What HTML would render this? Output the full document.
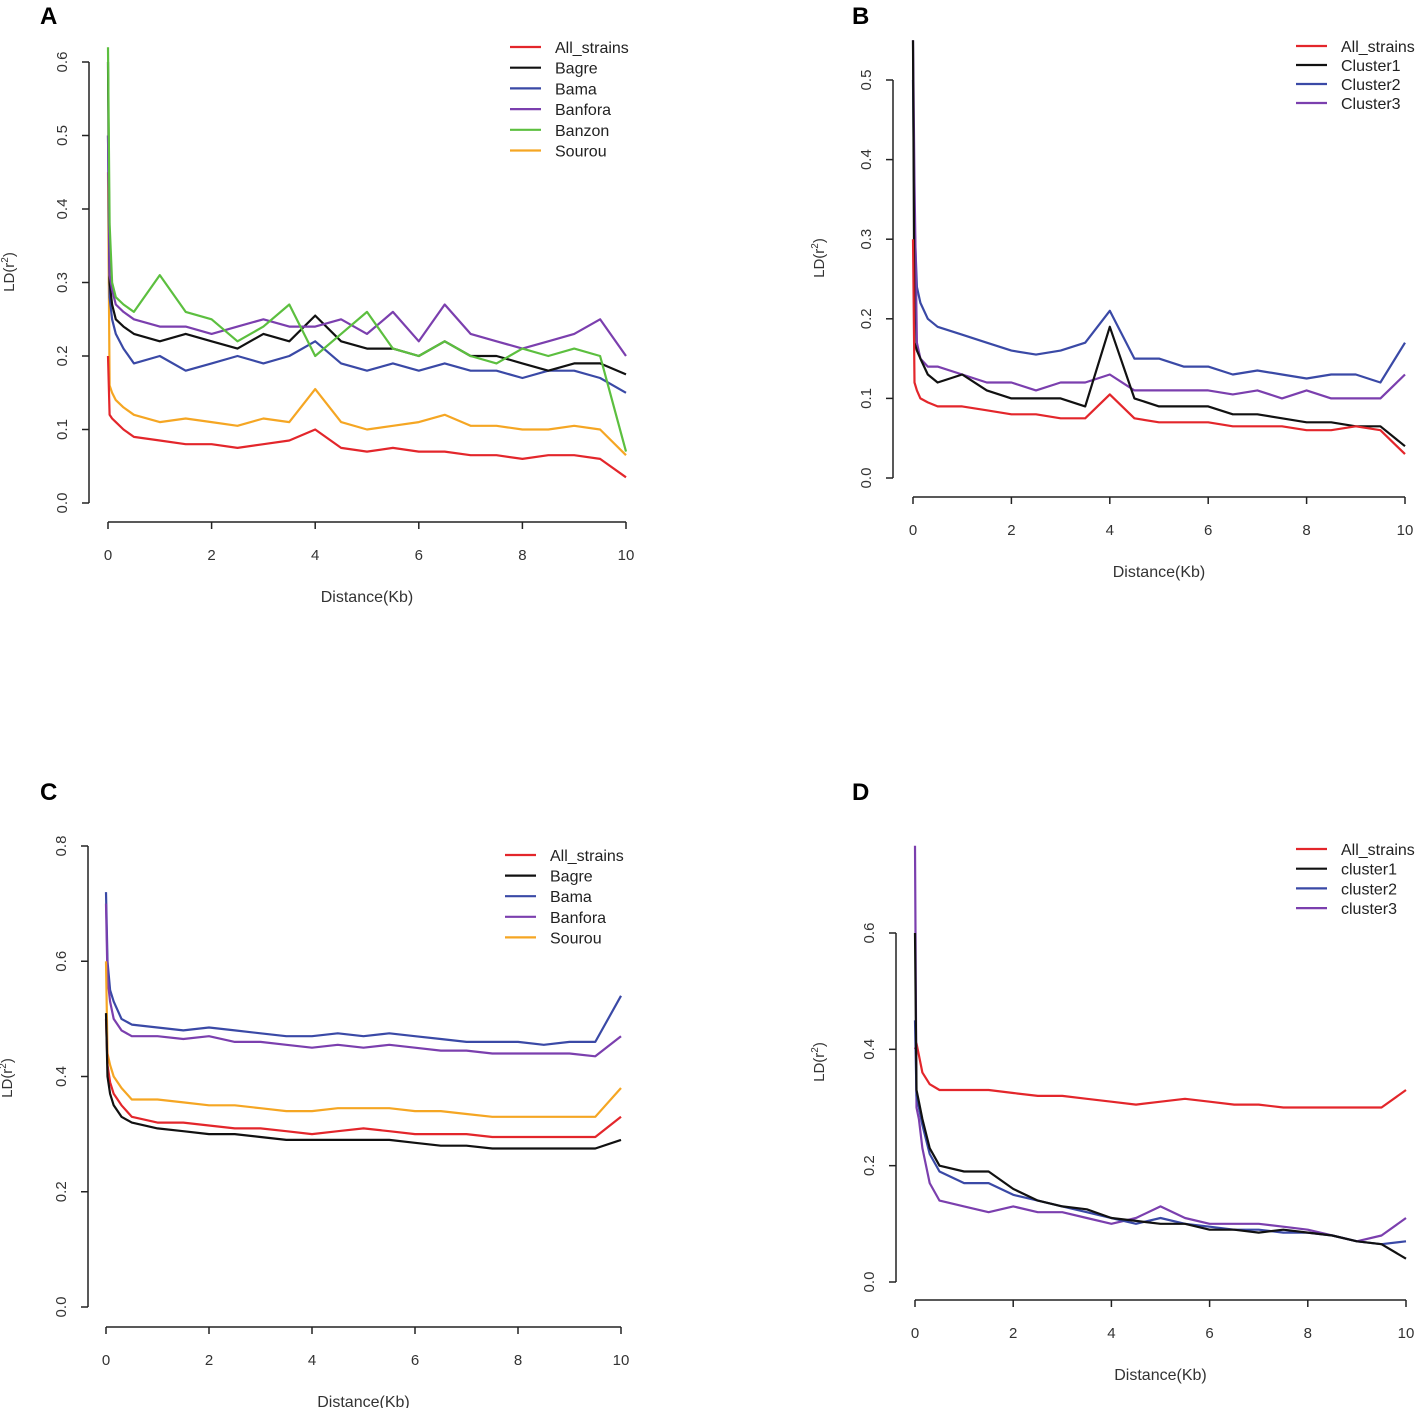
<!DOCTYPE html>
<html><head><meta charset="utf-8">
<style>
html,body{margin:0;padding:0;background:#fff}
svg{display:block;font-family:"Liberation Sans",Arial,sans-serif}
</style></head>
<body>
<svg id="fig" width="1417" height="1408" viewBox="0 0 1417 1408" xmlns="http://www.w3.org/2000/svg"></svg>
<script>
const distances=[0,0.03,0.08,0.15,0.3,0.5,1,1.5,2,2.5,3,3.5,4,4.5,5,5.5,6,6.5,7,7.5,8,8.5,9,9.5,10];
const xTicks=[0,2,4,6,8,10];
const ticksA=[0,0.1,0.2,0.3,0.4,0.5,0.6];
const ticksB=[0,0.1,0.2,0.3,0.4,0.5];
const ticksC=[0,0.2,0.4,0.6,0.8];
const ticksD=[0,0.2,0.4,0.6];
const namesA=["All_strains","Bagre","Bama","Banfora","Banzon","Sourou"];
const namesB=["All_strains","Cluster1","Cluster2","Cluster3"];
const namesC=["All_strains","Bagre","Bama","Banfora","Sourou"];
const namesD=["All_strains","cluster1","cluster2","cluster3"];
const A_all=[0.2,0.12,0.115,0.11,0.1,0.09,0.085,0.08,0.08,0.075,0.08,0.085,0.1,0.075,0.07,0.075,0.07,0.07,0.065,0.065,0.06,0.065,0.065,0.06,0.035];
const A_bagre=[0.6,0.3,0.27,0.25,0.24,0.23,0.22,0.23,0.22,0.21,0.23,0.22,0.255,0.22,0.21,0.21,0.2,0.22,0.2,0.2,0.19,0.18,0.19,0.19,0.175];
const A_bama=[0.5,0.28,0.25,0.23,0.21,0.19,0.2,0.18,0.19,0.2,0.19,0.2,0.22,0.19,0.18,0.19,0.18,0.19,0.18,0.18,0.17,0.18,0.18,0.17,0.15];
const A_banfora=[0.5,0.31,0.29,0.27,0.26,0.25,0.24,0.24,0.23,0.24,0.25,0.24,0.24,0.25,0.23,0.26,0.22,0.27,0.23,0.22,0.21,0.22,0.23,0.25,0.2];
const A_banzon=[0.62,0.38,0.3,0.28,0.27,0.26,0.31,0.26,0.25,0.22,0.24,0.27,0.2,0.23,0.26,0.21,0.2,0.22,0.2,0.19,0.21,0.2,0.21,0.2,0.07];
const A_sourou=[0.45,0.16,0.15,0.14,0.13,0.12,0.11,0.115,0.11,0.105,0.115,0.11,0.155,0.11,0.1,0.105,0.11,0.12,0.105,0.105,0.1,0.1,0.105,0.1,0.065];
const B_all=[0.3,0.12,0.11,0.1,0.095,0.09,0.09,0.085,0.08,0.08,0.075,0.075,0.105,0.075,0.07,0.07,0.07,0.065,0.065,0.065,0.06,0.06,0.065,0.06,0.03];
const B_c1=[0.55,0.17,0.16,0.15,0.13,0.12,0.13,0.11,0.1,0.1,0.1,0.09,0.19,0.1,0.09,0.09,0.09,0.08,0.08,0.075,0.07,0.07,0.065,0.065,0.04];
const B_c2=[0.5,0.32,0.24,0.22,0.2,0.19,0.18,0.17,0.16,0.155,0.16,0.17,0.21,0.15,0.15,0.14,0.14,0.13,0.135,0.13,0.125,0.13,0.13,0.12,0.17];
const B_c3=[0.55,0.37,0.17,0.15,0.14,0.14,0.13,0.12,0.12,0.11,0.12,0.12,0.13,0.11,0.11,0.11,0.11,0.105,0.11,0.1,0.11,0.1,0.1,0.1,0.13];
const C_all=[0.5,0.42,0.39,0.37,0.35,0.33,0.32,0.32,0.315,0.31,0.31,0.305,0.3,0.305,0.31,0.305,0.3,0.3,0.3,0.295,0.295,0.295,0.295,0.295,0.33];
const C_bagre=[0.51,0.4,0.37,0.35,0.33,0.32,0.31,0.305,0.3,0.3,0.295,0.29,0.29,0.29,0.29,0.29,0.285,0.28,0.28,0.275,0.275,0.275,0.275,0.275,0.29];
const C_bama=[0.72,0.6,0.55,0.53,0.5,0.49,0.485,0.48,0.485,0.48,0.475,0.47,0.47,0.475,0.47,0.475,0.47,0.465,0.46,0.46,0.46,0.455,0.46,0.46,0.54];
const C_banfora=[0.7,0.57,0.53,0.5,0.48,0.47,0.47,0.465,0.47,0.46,0.46,0.455,0.45,0.455,0.45,0.455,0.45,0.445,0.445,0.44,0.44,0.44,0.44,0.435,0.47];
const C_sourou=[0.6,0.44,0.42,0.4,0.38,0.36,0.36,0.355,0.35,0.35,0.345,0.34,0.34,0.345,0.345,0.345,0.34,0.34,0.335,0.33,0.33,0.33,0.33,0.33,0.38];
const D_all=[0.4,0.41,0.39,0.36,0.34,0.33,0.33,0.33,0.325,0.32,0.32,0.315,0.31,0.305,0.31,0.315,0.31,0.305,0.305,0.3,0.3,0.3,0.3,0.3,0.33];
const D_c1=[0.6,0.33,0.31,0.28,0.23,0.2,0.19,0.19,0.16,0.14,0.13,0.125,0.11,0.105,0.1,0.1,0.09,0.09,0.085,0.09,0.085,0.08,0.07,0.065,0.04];
const D_c2=[0.45,0.32,0.3,0.27,0.22,0.19,0.17,0.17,0.15,0.14,0.13,0.12,0.11,0.1,0.11,0.1,0.095,0.09,0.09,0.085,0.085,0.08,0.07,0.065,0.07];
const D_c3=[0.75,0.3,0.28,0.23,0.17,0.14,0.13,0.12,0.13,0.12,0.12,0.11,0.1,0.11,0.13,0.11,0.1,0.1,0.1,0.095,0.09,0.08,0.07,0.08,0.11];

const RED="#e3262b",BLK="#111",BLU="#3a49a6",PUR="#7b3fae",GRN="#5cbf3f",ORG="#f5a623";
const NS="http://www.w3.org/2000/svg";
const svg=document.getElementById('fig');
function mk(tag,attrs,parent){const e=document.createElementNS(NS,tag);for(const k in attrs)e.setAttribute(k,attrs[k]);(parent||svg).appendChild(e);return e;}

function panel(p){
  const g=mk('g',{});
  
  
  const xs=v=>p.x0+(v-0)/10*(p.x1-p.x0);
  const ys=v=>p.y0-(v-p.yt[0])/(p.yt[p.yt.length-1]-p.yt[0])*(p.y0-p.y1);
  const lab=mk('text',{x:p.lx,y:p.ly,'font-size':24,'font-weight':'bold',fill:'#000'},g);lab.textContent=p.id;
  
  
  // y axis
  const ya=mk('g',{},g);
  
  
  mk('line',{x1:p.ax,x2:p.ax,y1:ys(p.yt[0]),y2:ys(p.yt[p.yt.length-1]),stroke:'#222','stroke-width':1.5},ya);
  p.yt.forEach(t=>{const y=ys(t);mk('line',{x1:p.ax-7,x2:p.ax,y1:y,y2:y,stroke:'#222','stroke-width':1.5},ya);
    const tx=mk('text',{x:p.ax-22,y:y,'font-size':15,fill:'#333','text-anchor':'middle',transform:`rotate(-90 ${p.ax-22} ${y})`},ya);tx.textContent=t.toFixed(1);
    
    });
  const yl=mk('text',{x:p.ylx,y:p.yly,'font-size':15,fill:'#333','text-anchor':'middle',transform:`rotate(-90 ${p.ylx} ${p.yly})`},ya);
  yl.innerHTML='LD(r<tspan font-size="10" dy="-6">2</tspan><tspan dy="6">)</tspan>';
  
  
  // x axis
  const xa=mk('g',{},g);
  
  
  mk('line',{x1:xs(0),x2:xs(10),y1:p.ay,y2:p.ay,stroke:'#222','stroke-width':1.5},xa);
  xTicks.forEach(t=>{const x=xs(t);mk('line',{x1:x,x2:x,y1:p.ay,y2:p.ay+7,stroke:'#222','stroke-width':1.5},xa);
    const tx=mk('text',{x:x,y:p.ay+38,'font-size':15,fill:'#333','text-anchor':'middle'},xa);tx.textContent=t;
    
    });
  const xl=mk('text',{x:(xs(0)+xs(10))/2,y:p.ay+80,'font-size':16,fill:'#333','text-anchor':'middle'},xa);xl.textContent='Distance(Kb)';
  
  
  // series
  p.series.forEach(s=>{
    const d=distances.map((v,i)=>(i?'L':'M')+xs(v).toFixed(1)+','+ys(s.v[i]).toFixed(1)).join('');
    const pa=mk('path',{d:d,fill:'none',stroke:s.c,'stroke-width':2.2,'stroke-linejoin':'round'},g);
    
    
  });
  // legend
  const lg=mk('g',{},g);
  
  
  p.legendOrder.forEach((s,i)=>{const y=p.legY+i*p.legDy;
    const e=mk('g',{},lg);
    
    
    mk('line',{x1:p.legX,x2:p.legX+31,y1:y,y2:y,stroke:s.c,'stroke-width':2.2},e);
    const t=mk('text',{x:p.legX+45,y:y+6,'font-size':16,fill:'#222'},e);t.textContent=s.n;});
}
function ser(names,vals,cols){return names.map((n,i)=>({n:n,v:vals[i],c:cols[i]}));}
const sA=ser(namesA,[A_all,A_bagre,A_bama,A_banfora,A_banzon,A_sourou],[RED,BLK,BLU,PUR,GRN,ORG]);
panel({id:'A',lx:40,ly:24,ax:89,ay:522,x0:108,x1:626,y0:503,y1:62,yt:ticksA,ylx:14,yly:272,
  series:[sA[5],sA[0],sA[2],sA[1],sA[3],sA[4]],legendOrder:sA,legX:510,legY:47,legDy:20.7});
const sB=ser(namesB,[B_all,B_c1,B_c2,B_c3],[RED,BLK,BLU,PUR]);
panel({id:'B',lx:852,ly:24,ax:893,ay:497,x0:913,x1:1405,y0:478,y1:80,yt:ticksB,ylx:824,yly:258,
  series:[sB[2],sB[3],sB[1],sB[0]],legendOrder:sB,legX:1296,legY:46,legDy:19});
const sC=ser(namesC,[C_all,C_bagre,C_bama,C_banfora,C_sourou],[RED,BLK,BLU,PUR,ORG]);
panel({id:'C',lx:40,ly:800,ax:88,ay:1327,x0:106,x1:621,y0:1307,y1:846,yt:ticksC,ylx:12,yly:1078,
  series:[sC[2],sC[3],sC[4],sC[0],sC[1]],legendOrder:sC,legX:505,legY:855,legDy:20.6});
const sD=ser(namesD,[D_all,D_c1,D_c2,D_c3],[RED,BLK,BLU,PUR]);
panel({id:'D',lx:852,ly:800,ax:896,ay:1300,x0:915,x1:1406,y0:1282,y1:933,yt:ticksD,ylx:824,yly:1062,
  series:[sD[0],sD[3],sD[2],sD[1]],legendOrder:sD,legX:1296,legY:849,legDy:19.7});
</script>
</body></html>
